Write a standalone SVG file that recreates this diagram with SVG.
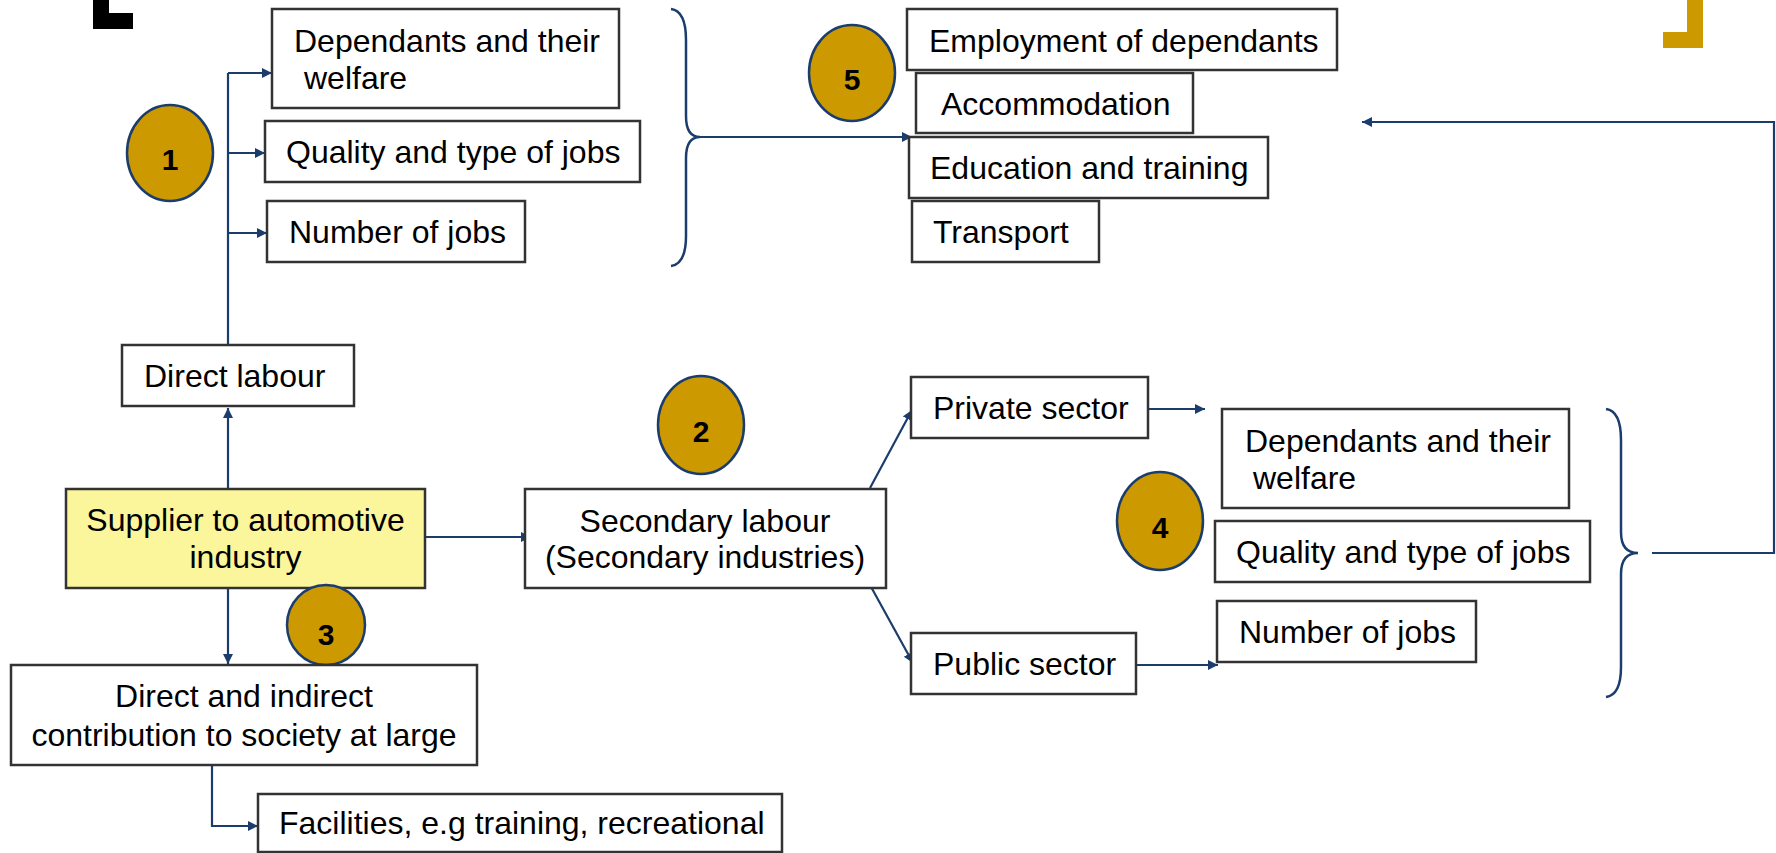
<svg xmlns="http://www.w3.org/2000/svg" width="1776" height="853" viewBox="0 0 1776 853">
<defs>
<style>
.box{fill:#ffffff;stroke:#333333;stroke-width:2.5}
.yel{fill:#FBF59B;stroke:#333333;stroke-width:2.5}
.t{font-family:"Liberation Sans",Arial,sans-serif;font-size:32px;fill:#000000}
.c{fill:#CC9900;stroke:#1A3D6D;stroke-width:2.5}
.n{font-family:"Liberation Sans",Arial,sans-serif;font-size:30px;font-weight:bold;fill:#000000;text-anchor:middle}
.ln{fill:none;stroke:#1A3D6D;stroke-width:2.2}
.ar{fill:none;stroke:#1A3D6D;stroke-width:2.2;marker-end:url(#ah)}
.br{fill:none;stroke:#1A3D6D;stroke-width:2.5}
</style>
<marker id="ah" markerUnits="userSpaceOnUse" markerWidth="11" markerHeight="11" refX="10" refY="5" orient="auto">
<path d="M0,0 L10,5 L0,10 z" fill="#1A3D6D"/>
</marker>
</defs>
<rect width="1776" height="853" fill="#ffffff"/>

<g id="corner-marks">
<polygon points="93,0 109,0 109,13 133,13 133,29 93,29" fill="#000000"/>
<polygon points="1687,0 1703,0 1703,48 1663,48 1663,32 1687,32" fill="#CC9900"/>
</g>

<g id="connectors">
<polyline class="ln" points="228,345 228,73"/>
<line class="ar" x1="228" y1="73" x2="272" y2="73"/>
<line class="ar" x1="228" y1="153" x2="265" y2="153"/>
<line class="ar" x1="228" y1="233" x2="267" y2="233"/>
<line class="ar" x1="228" y1="489" x2="228" y2="408"/>
<line class="ar" x1="228" y1="588" x2="228" y2="664"/>
<line class="ar" x1="414" y1="537" x2="531" y2="537"/>
<polyline class="ar" points="212,765 212,826 258,826"/>
<line class="ar" x1="870" y1="488" x2="912" y2="410"/>
<line class="ar" x1="870" y1="585" x2="913" y2="663"/>
<line class="ar" x1="1148" y1="409" x2="1205" y2="409"/>
<line class="ar" x1="1136" y1="665" x2="1218" y2="665"/>
<path class="br" d="M671,9 Q686,11 686,40 L686,116 Q686,137 700,137 Q686,137 686,158 L686,236 Q686,264 671,266"/>
<line class="ar" x1="700" y1="137" x2="912" y2="137"/>
<path class="br" d="M1606,409 Q1621,411 1621,440 L1621,532 Q1621,553 1638,553 Q1621,553 1621,574 L1621,667 Q1621,695 1606,697"/>
<polyline class="ar" points="1652,553 1774,553 1774,122 1362,122"/>
</g>

<g id="n-dependants-1">
<rect class="box" x="272" y="9" width="347" height="99"/>
<text class="t" x="294" y="52">Dependants and their</text>
<text class="t" x="304" y="89">welfare</text>
</g>
<g id="n-quality-1">
<rect class="box" x="265" y="121" width="375" height="61"/>
<text class="t" x="286" y="163">Quality and type of jobs</text>
</g>
<g id="n-number-1">
<rect class="box" x="267" y="201" width="258" height="61"/>
<text class="t" x="289" y="243">Number of jobs</text>
</g>
<g id="badge-1">
<ellipse class="c" cx="170" cy="153" rx="43" ry="48"/>
<text class="n" x="170" y="170">1</text>
</g>

<g id="badge-5">
<ellipse class="c" cx="852" cy="73" rx="43" ry="48"/>
<text class="n" x="852" y="90">5</text>
</g>
<g id="n-employment">
<rect class="box" x="907" y="9" width="430" height="61"/>
<text class="t" x="929" y="52">Employment of dependants</text>
</g>
<g id="n-accommodation">
<rect class="box" x="916" y="73" width="277" height="60"/>
<text class="t" x="941" y="115">Accommodation</text>
</g>
<g id="n-education">
<rect class="box" x="909" y="137" width="359" height="61"/>
<text class="t" x="930" y="179">Education and training</text>
</g>
<g id="n-transport">
<rect class="box" x="912" y="201" width="187" height="61"/>
<text class="t" x="933" y="243">Transport</text>
</g>

<g id="n-direct-labour">
<rect class="box" x="122" y="345" width="232" height="61"/>
<text class="t" x="144" y="387">Direct labour</text>
</g>
<g id="n-supplier">
<rect class="yel" x="66" y="489" width="359" height="99"/>
<text class="t" x="245.5" y="531" text-anchor="middle">Supplier to automotive</text>
<text class="t" x="245.5" y="568" text-anchor="middle">industry</text>
</g>
<g id="badge-3">
<ellipse class="c" cx="326" cy="625" rx="39" ry="40"/>
<text class="n" x="326" y="645">3</text>
</g>
<g id="n-contribution">
<rect class="box" x="11" y="665" width="466" height="100"/>
<text class="t" x="244" y="707" text-anchor="middle">Direct and indirect</text>
<text class="t" x="244" y="746" text-anchor="middle">contribution to society at large</text>
</g>
<g id="n-facilities">
<rect class="box" x="258" y="794" width="524" height="58"/>
<text class="t" x="279" y="834">Facilities, e.g training, recreational</text>
</g>

<g id="badge-2">
<ellipse class="c" cx="701" cy="425" rx="43" ry="49"/>
<text class="n" x="701" y="442">2</text>
</g>
<g id="n-secondary">
<rect class="box" x="525" y="489" width="361" height="99"/>
<text class="t" x="705" y="532" text-anchor="middle">Secondary labour</text>
<text class="t" x="705" y="568" text-anchor="middle">(Secondary industries)</text>
</g>
<g id="n-private">
<rect class="box" x="911" y="377" width="237" height="61"/>
<text class="t" x="933" y="419">Private sector</text>
</g>
<g id="n-public">
<rect class="box" x="911" y="633" width="225" height="61"/>
<text class="t" x="933" y="675">Public sector</text>
</g>

<g id="badge-4">
<ellipse class="c" cx="1160" cy="521" rx="43" ry="49"/>
<text class="n" x="1160" y="538">4</text>
</g>
<g id="n-dependants-2">
<rect class="box" x="1222" y="409" width="347" height="99"/>
<text class="t" x="1245" y="452">Dependants and their</text>
<text class="t" x="1253" y="489">welfare</text>
</g>
<g id="n-quality-2">
<rect class="box" x="1215" y="521" width="375" height="61"/>
<text class="t" x="1236" y="563">Quality and type of jobs</text>
</g>
<g id="n-number-2">
<rect class="box" x="1217" y="601" width="259" height="61"/>
<text class="t" x="1239" y="643">Number of jobs</text>
</g>
</svg>
